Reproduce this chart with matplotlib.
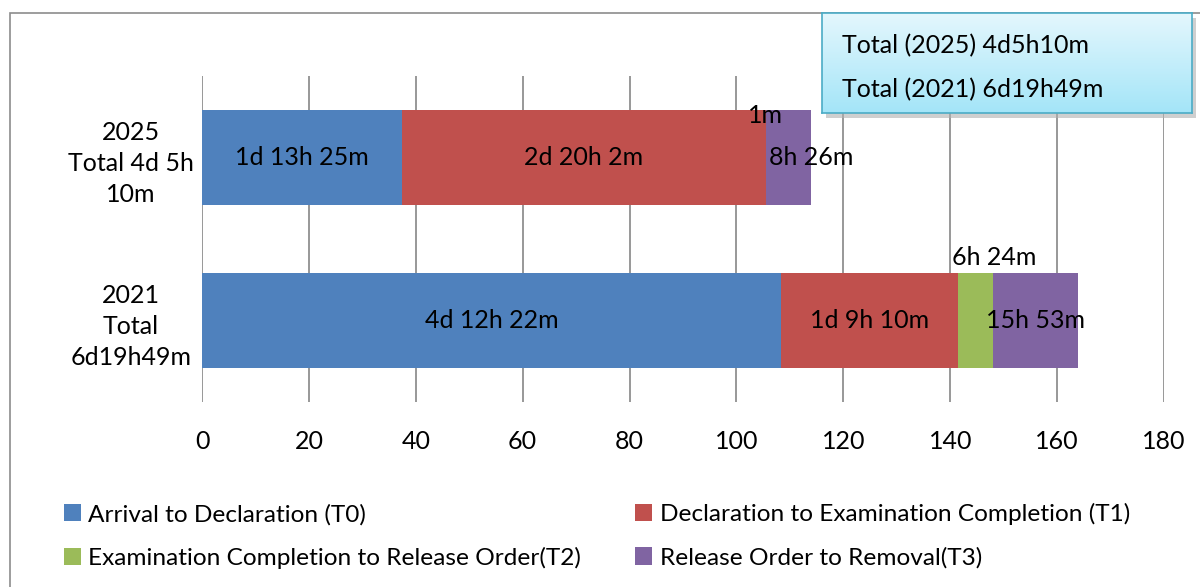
import matplotlib
matplotlib.use("Agg")
import matplotlib.pyplot as plt
import numpy as np
from matplotlib.patches import Rectangle, Patch

plt.rcParams['font.family'] = ['Lato', 'DejaVu Sans']

# ---- data (hours) ----
categories = ["2021\nTotal\n6d19h49m", "2025\nTotal 4d 5h\n10m"]
series_names = ["Arrival to Declaration (T0)",
                "Declaration to Examination Completion (T1)",
                "Examination Completion to Release Order(T2)",
                "Release Order to Removal(T3)"]
t0 = [108.37, 37.42]
t1 = [33.17, 68.03]
t2 = [6.40, 0.02]
t3 = [15.88, 8.43]
labels_t0 = ["4d 12h 22m", "1d 13h 25m"]
labels_t1 = ["1d 9h 10m", "2d 20h 2m"]
labels_t2 = ["6h 24m", "1m"]
labels_t3 = ["15h 53m", "8h 26m"]
xticks = [0, 20, 40, 60, 80, 100, 120, 140, 160, 180]
totals_text = ["Total (2025) 4d5h10m", "Total (2021) 6d19h49m"]

colors = ["#4f81bd", "#c0504d", "#9bbb59", "#8064a2"]

W, H = 1200, 587
fs = 18
fig = plt.figure(figsize=(W / 100, H / 100), dpi=100)

# outer frame
fig.patches.append(Rectangle((10 / W, -0.1), 1.2, (H - 13) / H + 0.1,
                             transform=fig.transFigure, fill=False,
                             edgecolor="#8c8c8c", lw=1.2))

ax = fig.add_axes([202 / W, (H - 402) / H, (1164 - 202) / W, (402 - 76) / H])
y = np.arange(len(categories))
bh = 0.577
series = [t0, t1, t2, t3]
left = np.zeros(len(categories))
for vals, c in zip(series, colors):
    ax.barh(y, vals, left=left, height=bh, color=c, zorder=3)
    left = left + np.array(vals)

ax.set_xlim(0, 180)
ax.set_ylim(-0.5, 1.5)
ax.set_xticks(xticks)
ax.set_yticks(y)
ax.set_yticklabels(categories, fontsize=fs, ha="center", linespacing=1.42)
ax.tick_params(axis="x", length=0, pad=20, labelsize=fs)
ax.grid(axis="x", color="#868686", lw=1.2, zorder=0)
for s in ax.spines.values():
    s.set_visible(False)
# center the category labels around x ~ 131 px
for lbl in ax.get_yticklabels():
    lbl.set_x(-(202 - 131) / (1164 - 202))
    lbl.set_transform(ax.get_yaxis_transform())
ax.tick_params(axis="y", length=0, pad=0)

# segment labels
c0 = np.array(t0)
c1 = c0 + np.array(t1)
c2 = c1 + np.array(t2)
c3 = c2 + np.array(t3)
t3_shift = [0.0, 4.3]
for i in range(len(categories)):
    ax.text(c0[i] / 2, y[i], labels_t0[i], ha="center", va="center", fontsize=fs, zorder=5)
    ax.text((c0[i] + c1[i]) / 2, y[i], labels_t1[i], ha="center", va="center", fontsize=fs, zorder=5)
    ax.text((c2[i] + c3[i]) / 2 + t3_shift[i], y[i], labels_t3[i], ha="center", va="center", fontsize=fs, zorder=5)
# T2 labels above bars
ax.text((c1[0] + c2[0]) / 2 + 3.5, y[0] + bh / 2 + 0.03, labels_t2[0], ha="center", va="bottom", fontsize=fs, zorder=5)
ax.text((c1[1] + c2[1]) / 2, y[1] + bh / 2 - 0.10, labels_t2[1], ha="center", va="bottom", fontsize=fs, zorder=5)

# totals box with shadow and gradient
bx0, by0, bw, bhh = 822 / W, (H - 113) / H, 370 / W, 100 / H
fig.patches.append(Rectangle((bx0 + 4 / W, by0 - 5 / H), bw, bhh, transform=fig.transFigure,
                             facecolor="#b0b0b0", edgecolor="none", alpha=0.6, zorder=9))
bax = fig.add_axes([bx0, by0, bw, bhh], zorder=10)
grad = np.linspace(0, 1, 100).reshape(-1, 1)
top = np.array([0xe4, 0xf7, 0xfd]) / 255
bot = np.array([0xa4, 0xe5, 0xf8]) / 255
img = top + (bot - top) * grad[:, :, None]
bax.imshow(img, aspect="auto", extent=[0, 1, 0, 1], origin="upper")
bax.set_xticks([]); bax.set_yticks([])
for s in bax.spines.values():
    s.set_color("#4bacc6"); s.set_linewidth(1.2)
bax.text(20 / 370, 0.67, totals_text[0], fontsize=fs, va="center", ha="left")
bax.text(20 / 370, 0.23, totals_text[1], fontsize=fs, va="center", ha="left")

handles = [Patch(facecolor=c) for c in colors]
order = [0, 2, 1, 3]  # column-major fill -> row-major appearance
fig.legend([handles[k] for k in order], [series_names[k] for k in order],
           ncol=2, loc="upper left", bbox_to_anchor=(42 / W, (H - 481) / H),
           frameon=False, fontsize=17.6, handlelength=0.7, handleheight=0.7,
           handletextpad=0.3, columnspacing=2.2, labelspacing=0.9)

fig.savefig("out.png", dpi=100)
